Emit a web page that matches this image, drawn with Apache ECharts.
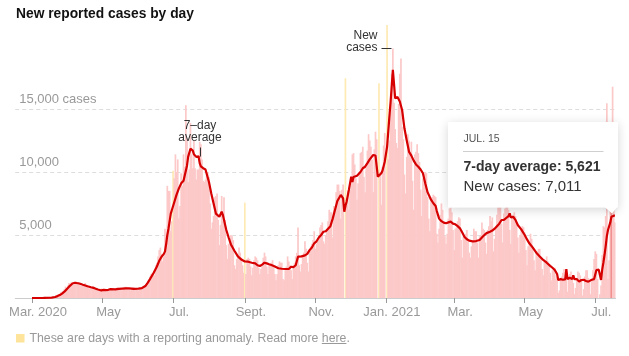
<!DOCTYPE html>
<html>
<head>
<meta charset="utf-8">
<script src="https://cdn.jsdelivr.net/npm/echarts@6/dist/echarts.min.js"></script>
<style>
  html, body { margin: 0; padding: 0; background: #fff; }
  #chart { width: 629px; height: 356px; }
</style>
</head>
<body>
<div id="chart"></div>
<script>
// ---------------- DATA ----------------
const AXIS_START = '2020-02-16';
const AXIS_END = '2021-07-18';
const DATA_START = '2020-03-01';

const tickDates = ['2020-03-01','2020-05-01','2020-07-01','2020-09-01','2020-11-01','2021-01-01','2021-03-01','2021-05-01','2021-07-01'];
const tickLabels = ['Mar. 2020','May','Jul.','Sept.','Nov.','Jan. 2021','Mar.','May','Jul.'];

const yTickValues = [5000, 10000, 15000];
const yTickLabels = ['5,000', '10,000', '15,000 cases'];

// Daily new reported cases, one value per day from 2020-03-01 (weekly rows)
const dailyCases = [
  0,0,1,2,2,3,4,
  6,5,10,14,20,28,36,
  40,45,60,80,110,130,160,
  200,250,280,350,450,500,550,
  700,900,800,1000,1200,1100,1250,
  1100,1050,1200,1300,1150,1250,1100,
  1000,950,1050,1100,1200,1050,900,
  800,750,850,900,950,850,800,
  650,550,650,700,750,650,600,
  550,500,650,700,750,700,650,
  600,550,700,800,850,750,700,
  650,600,750,850,900,850,750,
  700,600,750,850,850,800,750,
  650,600,700,800,900,950,900,
  950,1050,1200,1400,1700,1900,2000,
  2000,1800,2600,2800,3300,3800,4000,
  3500,2900,3300,5500,5000,8900,8500,
  8500,5300,6100,10100,9500,11400,10000,
  11000,6300,7300,9900,8900,11400,10400,
  15300,12600,9200,10200,13900,11400,10300,
  12500,10300,9400,10200,10200,12400,12200,
  11000,9300,9200,9400,9800,10000,9600,
  7500,5500,6000,6500,8000,8100,8300,
  6200,4200,5800,8100,6200,8000,6200,
  4200,3100,4300,4800,5000,4900,4600,
  2600,2300,3100,3200,4000,3600,3200,
  2600,2000,7570,1900,3100,3200,3100,
  2500,1800,2400,3000,3300,3200,3000,
  2400,1900,2300,2600,3200,3600,3300,
  2500,1900,2600,2600,2800,3000,2600,
  1900,1400,1900,2600,2900,2800,2800,
  1500,1400,2200,2500,3300,2900,2600,
  2200,1500,2500,2800,3300,3600,5600,
  2600,2100,2700,3400,3600,4500,3900,
  2800,2100,3800,4100,4300,4600,5300,
  3900,4300,4500,5000,5600,5800,6000,
  4500,4300,5000,5500,6100,7000,6800,
  6800,4800,7300,7000,8400,9000,9000,
  8500,6300,8600,9000,0,17440,7300,
  8500,7000,8600,9500,11400,11500,10600,
  9500,7800,9100,10000,11500,11600,12000,
  9600,8400,10400,11700,13000,12500,12000,
  11000,8400,11800,13200,12600,0,17040,
  10000,7400,10400,12100,13100,0,21670,
  11000,12500,15400,17800,19800,15500,13400,
  12300,11900,15400,17800,19000,13600,12600,
  9800,8300,11200,13000,12500,11300,12400,
  9300,7000,11400,11600,12200,11500,10800,
  8600,6500,9500,9800,10000,9900,8000,
  6300,5300,7900,8000,8200,8100,8000,
  5100,4400,5500,6600,7500,7000,6000,
  4900,4300,5100,6300,7100,7200,6800,
  5400,3800,5500,5600,6100,6400,6300,
  4600,3200,4900,4800,5100,5400,4700,
  3600,3200,4100,4500,5500,5300,5300,
  4400,3200,4900,5000,6000,5500,5400,
  4400,3500,5400,5700,6500,6100,6400,
  3700,4700,5700,6600,7300,7200,7400,
  5900,4400,6700,7100,7700,7700,7000,
  5400,4300,6400,6600,6800,6500,5900,
  4800,3600,5000,5500,5700,5600,5200,
  3800,2600,4100,4400,5100,4700,4000,
  3000,2200,3500,3700,3900,3900,3200,
  2300,1800,2900,2800,3300,2900,2600,
  2000,1400,2200,2300,2400,1500,1700,
  400,600,1600,1700,2000,2300,1500,
  2300,500,1700,1900,2100,1500,1200,
  300,800,1600,2100,2000,1800,1500,
  200,700,1700,2200,2200,1600,1300,
  300,1300,2200,3100,3700,3500,1500,
  0,300,1000,3400,5700,5600,6500,
  15450,1500,3000,7500,7011,16770,7000,
  6000
];

// Days with a reporting anomaly
const anomalyDates = ['2020-07-01','2020-09-01','2020-11-27','2020-12-26','2021-01-02'];

// 7-day average: day offset from DATA_START and value
const avgDays = [
  0,10,17,20,22,24,26,28,30,32,
  33,35,37,38,41,44,48,51,54,57,
  60,62,64,66,68,72,75,78,81,84,
  88,92,95,98,100,102,105,108,110,112,
  114,115,116,117,118,120,121,123,125,127,
  129,131,132,134,135,137,138,139,140,141,
  142,143,144,145,146,148,150,151,153,155,
  157,159,160,162,164,165,167,168,170,172,
  175,178,181,184,187,190,193,195,197,199,
  201,203,205,207,210,213,216,219,222,224,
  226,228,229,230,231,233,236,238,240,242,
  244,246,248,250,252,254,256,258,260,262,
  264,265,267,268,269,270,271,272,274,276,
  277,278,279,281,284,286,288,290,292,295,
  296,297,298,299,300,302,303,305,307,309,
  310,311,312,313,314,315,316,317,318,320,
  322,324,326,328,330,332,334,336,338,340,
  342,344,345,347,349,350,352,354,356,358,
  360,362,364,366,368,370,372,374,376,378,
  381,384,387,390,393,396,398,400,402,404,
  406,408,410,412,413,414,416,418,420,423,
  426,428,430,433,436,439,442,445,448,450,
  452,454,455,457,459,461,462,463,465,466,
  467,468,469,471,473,475,477,479,481,482,
  484,486,487,488,490,491,492,493,494,495,
  496,497,498,499,500,501,502,503,504
];
const avgValues = [
  0,10,30,80,150,230,350,500,700,900,
  1000,1150,1210,1190,1150,1050,930,850,780,680,
  600,640,620,650,700,690,720,750,770,760,
  730,740,780,950,1200,1500,1960,2500,2950,3280,
  3500,3700,4300,5000,5500,6700,7000,7600,8200,8700,
  9100,9300,9370,10500,11200,11850,11880,11700,11400,11500,
  11200,11100,11250,10700,10450,10300,10200,10100,9200,8300,
  7500,6700,6550,6450,6850,6600,5800,5400,4800,4250,
  3750,3300,3050,2900,2880,2800,2750,2600,2540,2650,
  2800,2750,2680,2620,2500,2360,2320,2300,2300,2480,
  2450,2600,2700,3280,3200,3300,3380,3500,3800,4000,
  4340,4500,4800,5000,5260,5300,5500,5700,6300,7000,
  7700,7800,8180,8150,7900,6850,7300,7640,8600,9630,
  9200,9600,9500,9700,10000,10300,10420,10700,11000,11350,
  11400,11300,11210,9630,9700,9900,10100,10820,12000,14390,
  15500,16800,18100,17000,15850,15800,15950,15980,15600,14920,
  13470,12500,11600,11300,10900,10600,10420,10200,9900,9100,
  8400,8000,7800,7520,7300,6900,6300,6100,5980,5930,
  6000,6060,5900,5850,5700,5530,5200,4850,4660,4550,
  4500,4520,4600,4900,5150,5260,5350,5500,5700,5900,
  6190,6200,6350,6500,6720,6400,6450,6200,5790,5450,
  5000,4650,4340,4000,3600,3300,3020,2800,2550,2400,
  2220,1900,1430,1500,1450,1480,2300,1500,1600,1550,
  1500,1800,1500,1500,1300,1430,1450,1350,1300,1200,
  1450,1500,1550,2220,2250,2300,1430,2250,2800,3410,
  4100,4900,5400,5500,6000,6450,6500,6530,6530
];

// Tooltip shown in the reference
const tipDate = '2021-07-15';
const tipLabel = 'JUL. 15';
const tipAvg = 5621;

// ---------------- BUILD ----------------
const DAY = 86400000;
function iso(t) { return new Date(t).toISOString().slice(0, 10); }
function parse(s) { const p = s.split('-').map(Number); return Date.UTC(p[0], p[1] - 1, p[2]); }
const cats = [];
for (let t = parse(AXIS_START); t <= parse(AXIS_END); t += DAY) cats.push(iso(t));
const offset = cats.indexOf(DATA_START);

const PINK = '#fcc8c8';
const ANOM = '#feeab4';
const HOVER = '#ec7f7f';
const RED = '#d60000';

const barData = cats.map((c, i) => {
  const k = i - offset;
  if (k < 0 || k >= dailyCases.length) return '-';
  const v = dailyCases[k];
  if (anomalyDates.indexOf(c) >= 0) return { value: v, itemStyle: { color: ANOM } };
  if (c === tipDate) return { value: v, itemStyle: { color: HOVER } };
  return v;
});
const lineData = avgDays.map((d, i) => [cats[d + offset], avgValues[i]]);
const tipNew = dailyCases[cats.indexOf(tipDate) - offset];

const tickMap = {};
tickDates.forEach((d, i) => { tickMap[d] = tickLabels[i]; });
const yMap = {};
yTickValues.forEach((v, i) => { yMap[v] = yTickLabels[i]; });

const FONT = '"Liberation Sans", Arial, sans-serif';
const fmtNum = n => n.toLocaleString('en-US');

// footer measurements
const FOOT_FONT = '12.3px ' + FONT;
const mctx = document.createElement('canvas').getContext('2d');
mctx.font = FOOT_FONT;
const footPrefix = 'These are days with a reporting anomaly. Read more ';
const footX = 29.5;
const wPrefix = mctx.measureText(footPrefix).width;
const wHere = mctx.measureText('here').width;

const chart = echarts.init(document.getElementById('chart'), null, { renderer: 'canvas' });
chart.setOption({
  animation: false,
  backgroundColor: '#fff',
  grid: { left: 15.23, right: 13.5, top: 20.8, bottom: 58, containLabel: false },
  xAxis: {
    type: 'category',
    data: cats,
    boundaryGap: true,
    axisLine: { show: true, lineStyle: { color: '#cccccc', width: 1 } },
    axisTick: {
      show: true, alignWithLabel: true, length: 5,
      interval: (idx, val) => tickMap[val] !== undefined,
      lineStyle: { color: '#999' }
    },
    axisLabel: {
      interval: (idx, val) => tickMap[val] !== undefined,
      formatter: v => tickMap[v] || '',
      color: '#999', fontFamily: FONT, fontSize: 13, margin: 8,
      padding: [0, 0, 0, 12], hideOverlap: false
    },
    splitLine: { show: false }
  },
  yAxis: {
    type: 'value', min: 0, max: 22000, interval: 5000,
    axisLine: { show: false }, axisTick: { show: false },
    axisLabel: {
      inside: true, margin: 4,
      formatter: v => yMap[v] || '',
      color: '#999', fontFamily: FONT, fontSize: 13,
      verticalAlign: 'bottom', lineHeight: 13, padding: [0, 0, 3, 0]
    },
    splitLine: {
      show: true, showMinLine: false, showMaxLine: false,
      lineStyle: { color: ['#dddddd', '#dddddd', '#dddddd', 'rgba(0,0,0,0)'], type: [4, 3], width: 1 }
    }
  },
  series: [
    {
      type: 'bar', data: barData, barWidth: 1.7, barGap: '-100%',
      itemStyle: { color: PINK }, silent: true, z: 1
    },
    {
      type: 'line', data: lineData, showSymbol: false, symbol: 'none',
      lineStyle: { color: RED, width: 2.2 }, silent: true, z: 3
    }
  ],
  graphic: [
    { type: 'text', z: 10, style: { x: 16, y: 14, text: 'New reported cases by day', fill: '#121212',
      font: 'bold 13.8px ' + FONT, align: 'left', verticalAlign: 'middle' } },
    // annotations
    { type: 'text', z: 10, style: { x: 200, y: 126, text: '7\u2013day', fill: '#333',
      font: '12px ' + FONT, align: 'center', verticalAlign: 'middle' } },
    { type: 'text', z: 10, style: { x: 200, y: 137.5, text: 'average', fill: '#333',
      font: '12px ' + FONT, align: 'center', verticalAlign: 'middle' } },
    { type: 'line', z: 10, shape: { x1: 200.5, y1: 147.5, x2: 200.5, y2: 156.5 }, style: { stroke: '#333', lineWidth: 1 } },
    { type: 'text', z: 10, style: { x: 377.5, y: 35.5, text: 'New', fill: '#333',
      font: '12px ' + FONT, align: 'right', verticalAlign: 'middle' } },
    { type: 'text', z: 10, style: { x: 377.5, y: 48, text: 'cases', fill: '#333',
      font: '12px ' + FONT, align: 'right', verticalAlign: 'middle' } },
    { type: 'line', z: 10, shape: { x1: 381.5, y1: 48.5, x2: 391.5, y2: 48.5 }, style: { stroke: '#333', lineWidth: 1 } },
    // tooltip
    { type: 'rect', z: 20, shape: { x: 448, y: 122, width: 170, height: 85.5 },
      style: { fill: '#fff', shadowBlur: 10, shadowColor: 'rgba(0,0,0,0.16)', shadowOffsetY: 2 } },
    { type: 'polygon', z: 21, shape: { points: [[603.5, 206], [618, 206], [612, 213.5]] },
      style: { fill: '#fff', shadowBlur: 4, shadowColor: 'rgba(0,0,0,0.08)', shadowOffsetY: 1 } },
    { type: 'rect', z: 22, shape: { x: 449, y: 200, width: 168, height: 7.3 }, style: { fill: '#fff' } },
    { type: 'text', z: 23, style: { x: 463.5, y: 139, text: tipLabel, fill: '#555',
      font: '10.5px ' + FONT, align: 'left', verticalAlign: 'middle' } },
    { type: 'line', z: 23, shape: { x1: 463, y1: 151.5, x2: 603.5, y2: 151.5 }, style: { stroke: '#cfcfcf', lineWidth: 1 } },
    { type: 'text', z: 23, style: { x: 463.5, y: 167.5, text: '7-day average: ' + fmtNum(tipAvg), fill: '#333',
      font: 'bold 14px ' + FONT, align: 'left', verticalAlign: 'middle' } },
    { type: 'text', z: 23, style: { x: 463.5, y: 187, text: 'New cases: ' + fmtNum(tipNew), fill: '#333',
      font: '15px ' + FONT, align: 'left', verticalAlign: 'middle' } },
    // footer legend
    { type: 'rect', z: 10, shape: { x: 16, y: 334, width: 8.5, height: 8.5 }, style: { fill: '#fde49a' } },
    { type: 'text', z: 10, style: { x: footX, y: 338.5, text: footPrefix + 'here.', fill: '#999',
      font: FOOT_FONT, align: 'left', verticalAlign: 'middle' } },
    { type: 'line', z: 10, shape: { x1: footX + wPrefix, y1: 343.5, x2: footX + wPrefix + wHere, y2: 343.5 },
      style: { stroke: '#999', lineWidth: 1 } }
  ]
});
</script>
</body>
</html>
